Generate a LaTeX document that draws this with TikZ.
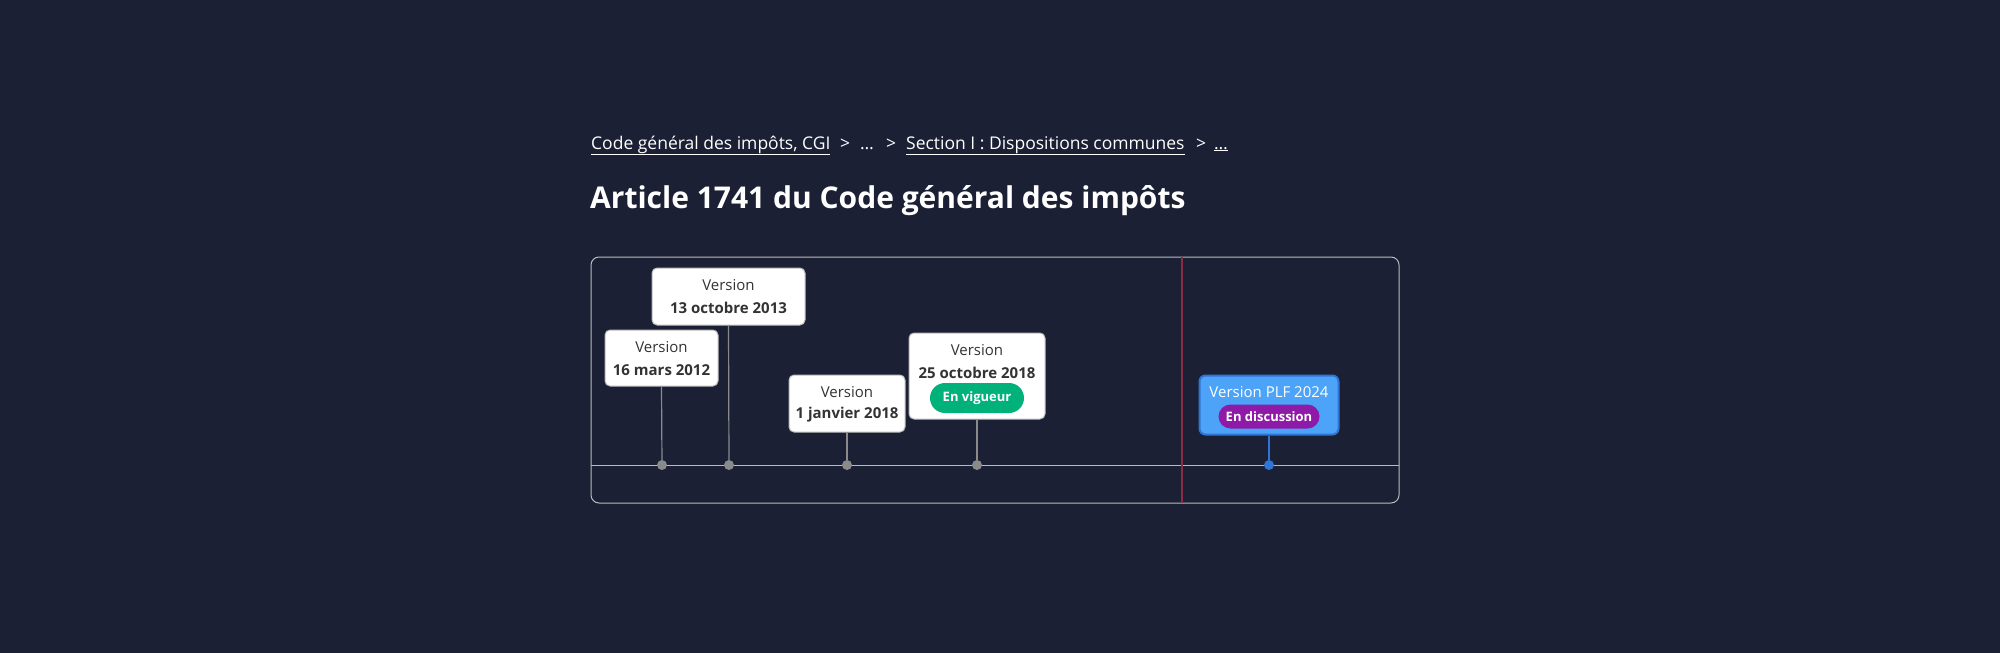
\documentclass[tikz,border=0pt]{standalone}
\usepackage{fontspec}
\setmainfont{Open Sans}
\begin{document}
\begin{tikzpicture}[x=1pt,y=-1pt,
  vbox/.style={draw=boxgray,fill=white,rounded corners=5pt,line width=1pt},
  stem/.style={draw=dotgray,line width=1.2pt},
  dot/.style={circle,fill=dotgray,inner sep=0pt,minimum size=10pt},
  lbl/.style={font=\fontsize{15}{18}\selectfont,text=txt},
  lblb/.style={font=\fontsize{15}{18}\selectfont\bfseries,text=txt},
  crumb/.style={font=\fontsize{17.5}{20}\selectfont,text=white,anchor=base west,inner sep=0pt}]
\definecolor{bg}{HTML}{1C2035}
\definecolor{boxgray}{HTML}{BBBBBB}
\definecolor{dotgray}{HTML}{8A8A8A}
\definecolor{txt}{HTML}{333333}
\definecolor{redl}{HTML}{8B2C45}
\definecolor{bluef}{HTML}{4DA3F7}
\definecolor{blueb}{HTML}{2F75D6}
\definecolor{purp}{HTML}{8E1AA7}
\definecolor{grn}{HTML}{00B27A}
\useasboundingbox[fill=bg] (0,0) rectangle (2000,653);
% breadcrumb
\node[crumb] (c1) at (591,149) {\underline{Code général des impôts, CGI}};
\node[crumb] (s1) at (840,149) {>};
\node[crumb] (c2) at (860,149) {…};
\node[crumb] (s2) at (886,149) {>};
\node[crumb] (c3) at (906,149) {\underline{Section I : Dispositions communes}};
\node[crumb] (s3) at (1196,149) {>};
\node[crumb] (c4) at (1214,149) {\underline{…}};
\node[font=\fontsize{30}{36}\selectfont\bfseries,text=white,anchor=base west,inner sep=0pt] (title) at (590,208) {Article 1741 du Code général des impôts};
% frame
\draw[boxgray,line width=1pt,rounded corners=8pt] (591,257) rectangle (1399,503);
\coordinate (tl) at (591,465); \coordinate (tr) at (1399,465);
\draw[boxgray,line width=1pt] (tl) -- (tr);
\coordinate (rt) at (1182,257); \coordinate (rb) at (1182,503);
\draw[redl,line width=1.5pt] (rt) -- (rb);
% dots
\node[dot] (d1) at (662,465) {};
\node[dot] (d2) at (729,465) {};
\node[dot] (d3) at (847,465) {};
\node[dot] (d4) at (977,465) {};
\node[dot,fill=blueb] (d5) at (1269,465) {};
% boxes
\node[vbox,minimum width=113pt,minimum height=56pt] (b1) at (661.5,358) {};
\node[lbl] at (661.5,347) {Version};
\node[lblb] at (661.5,370) {16 mars 2012};
\node[vbox,minimum width=153pt,minimum height=57pt] (b2) at (728.5,296.5) {};
\node[lbl] at (728.5,285) {Version};
\node[lblb] at (728.5,308) {13 octobre 2013};
\node[vbox,minimum width=116pt,minimum height=57pt] (b3) at (847,403.5) {};
\node[lbl] at (847,392) {Version};
\node[lblb] at (847,415) {1 janvier 2018};
\node[vbox,minimum width=136pt,minimum height=86pt] (b4) at (977,376) {};
\node[lbl] at (977,350) {Version};
\node[lblb] at (977,373) {25 octobre 2018};
\node[fill=grn,rounded corners=15pt,minimum width=94pt,minimum height=30pt,text=white,font=\fontsize{13}{15}\selectfont\bfseries] (p1) at (977,398) {En vigueur};
\node[fill=bluef,draw=blueb,line width=2pt,rounded corners=6pt,minimum width=139pt,minimum height=59pt] (b5) at (1269,405) {};
\node[font=\fontsize{15}{18}\selectfont,text=white] at (1269,392) {Version PLF 2024};
\node[fill=purp,rounded corners=12pt,minimum width=101pt,minimum height=24pt,text=white,font=\fontsize{13}{15}\selectfont\bfseries] (p2) at (1269,416.5) {En discussion};
% stems
\draw[stem] (b1.south) -- (d1);
\draw[stem] (b2.south) -- (d2);
\draw[stem] (b3.south) -- (d3);
\draw[stem] (b4.south) -- (d4);
\draw[stem,draw=blueb] (b5.south) -- (d5);
\end{tikzpicture}
\end{document}
